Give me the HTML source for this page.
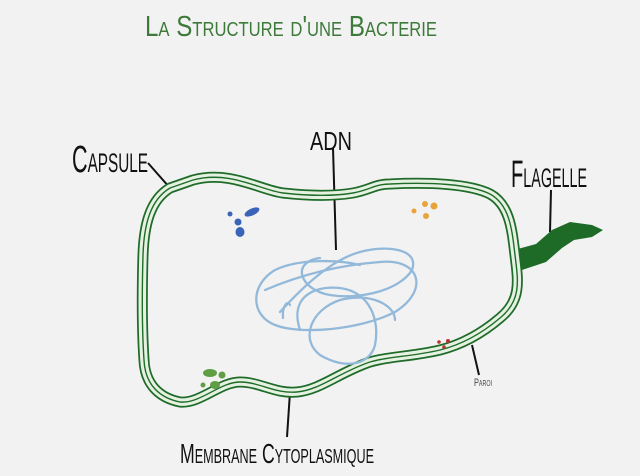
<!DOCTYPE html>
<html><head><meta charset="utf-8"><style>
html,body{margin:0;padding:0;background:#f2f2f2;}
svg{display:block;}
text{font-family:"Liberation Sans",sans-serif;}
</style></head><body>
<svg width="640" height="476" viewBox="0 0 640 476" xmlns="http://www.w3.org/2000/svg">
<defs>
<path id="c" d="M193,180 C230,170 260,190 283,193 C310,196 335,196 353,193 C370,190 375,184 390,184 C430,182 470,184 490,194 C510,205 512,230 515,255 C518,280 522,300 500,318 C480,335 460,345 440,350 C410,357 390,356 370,362 C340,372 320,390 297,392 C275,394 260,382 240,382 C220,382 200,404 180,402 C160,398 145,385 144,360 C142,330 142,290 143,255 C144,225 150,200 170,188 Z"/>
</defs>
<rect width="640" height="476" fill="#f2f2f2"/>
<text x="145" y="36" font-size="29" fill="#3d7a3a" textLength="292" lengthAdjust="spacingAndGlyphs" style="font-variant:small-caps">La Structure d'une Bacterie</text>
<text x="72" y="172" font-size="38" fill="#111" textLength="76" lengthAdjust="spacingAndGlyphs" style="font-variant:small-caps">Capsule</text>
<text x="310" y="150" font-size="26" fill="#111" textLength="42" lengthAdjust="spacingAndGlyphs">ADN</text>
<text x="511" y="187" font-size="38" fill="#111" textLength="76" lengthAdjust="spacingAndGlyphs" style="font-variant:small-caps">Flagelle</text>
<text x="180" y="463" font-size="28" fill="#111" textLength="194" lengthAdjust="spacingAndGlyphs" style="font-variant:small-caps">Membrane Cytoplasmique</text>
<text x="474" y="386" font-size="11" fill="#444" textLength="18" lengthAdjust="spacingAndGlyphs" style="font-variant:small-caps">Paroi</text>
<g stroke="#111" stroke-width="2" fill="none">
<line x1="148" y1="163" x2="170" y2="188"/>
<line x1="333" y1="148" x2="336" y2="250"/>
<line x1="551" y1="190" x2="550" y2="232"/>
<line x1="472" y1="345" x2="479" y2="375"/>
<line x1="290" y1="392" x2="287" y2="437"/>
</g>
<path d="M514,250 L536,244 L552,230 L570,222 L592,225 L603,230 L592,237 L574,240 L562,248 L546,262 L522,270 Z" fill="#1e6b27"/>
<g fill="none" stroke-linejoin="round">
<use href="#c" stroke="#1f6b2a" stroke-width="11"/>
<use href="#c" stroke="#e6f2e1" stroke-width="7.5"/>
<use href="#c" stroke="#1f6b2a" stroke-width="1.4"/>
</g>
<g fill="none" stroke="#93b9da" stroke-width="2.3" stroke-linecap="round">
<path d="M265,290 C300,275 340,265 380,262 C420,258 430,290 395,312 C360,330 300,335 275,325 C250,315 250,285 275,270 C300,258 340,260 360,265"/>
<path d="M280,312 C300,290 330,260 360,252 C385,245 420,248 412,270 C400,290 360,300 330,295 C300,290 290,262 320,258"/>
<path d="M300,330 C290,300 310,285 340,288 C370,292 380,320 375,345 C370,365 345,370 320,355 C300,340 310,310 340,300 C370,292 395,305 395,320"/>
<path d="M283,318 C282,305 288,300 290,305"/>
</g>
<g fill="#3a64b8"><circle cx="230" cy="214" r="2.5"/><ellipse cx="252" cy="212" rx="8" ry="3.5" transform="rotate(-25 252 212)"/><circle cx="238" cy="222" r="3.5"/><ellipse cx="240" cy="232" rx="4.5" ry="5"/></g>
<g fill="#e8a43a"><circle cx="414" cy="211" r="2.5"/><circle cx="425" cy="204" r="3"/><circle cx="434" cy="206" r="3.5"/><circle cx="426" cy="216" r="3"/></g>
<g fill="#b8342e"><circle cx="439" cy="342" r="1.8"/><circle cx="448" cy="341" r="2"/><circle cx="444" cy="347" r="1.8"/></g>
<g fill="#5f9e44"><ellipse cx="210" cy="373" rx="7" ry="4"/><circle cx="222" cy="375" r="3.5"/><ellipse cx="215" cy="385" rx="5" ry="4"/><circle cx="203" cy="385" r="2.5"/></g>
</svg>
</body></html>
